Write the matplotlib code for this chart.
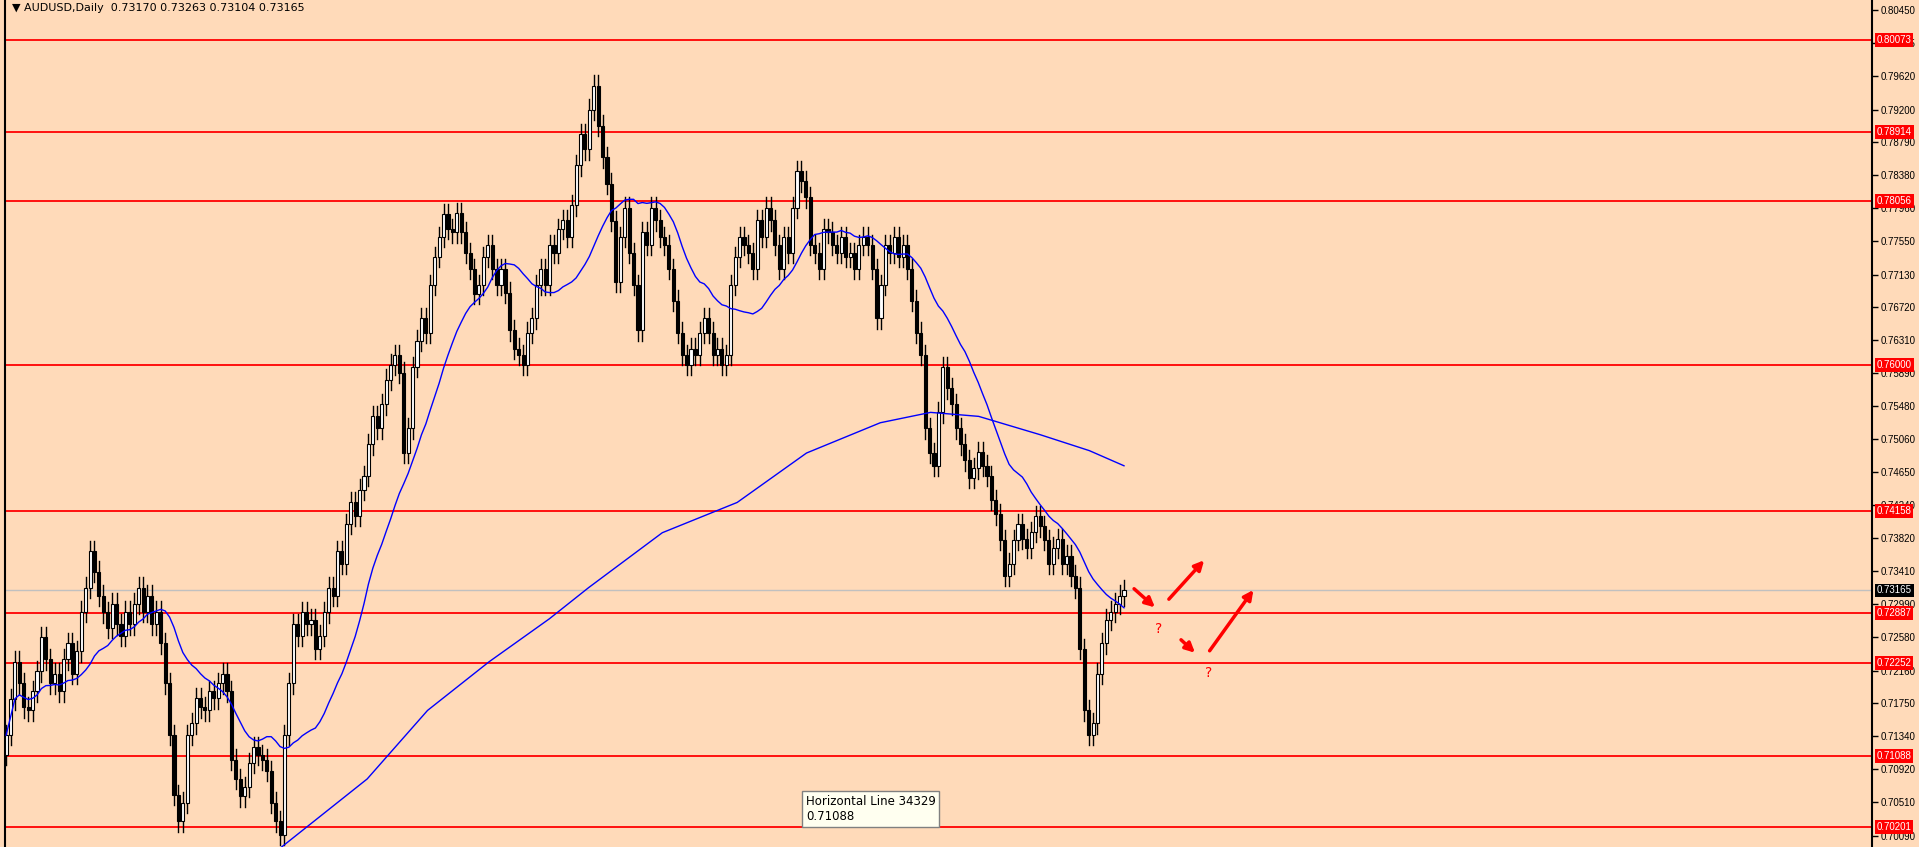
import matplotlib
matplotlib.use("Agg")
import matplotlib.pyplot as plt
import numpy as np
import pandas as pd

closes = [7135,7180,7227,7200,7170,7166,7190,7215,7258,7230,7200,7212,7190,7230,7250,7212,7240,7290,
          7320,7366,7340,7310,
          7289,7270,7300,7274,7260,7290,7274,7300,7320,7290,7310,7274,7290,7250,7200,
          7135,7060,7027,7050,
          7135,7150,7181,7170,7166,7190,7181,7200,7212,7190,
          7104,7080,7058,7070,7100,7120,7110,7104,7090,7050,7027,7010,
          7135,7200,7274,7260,7289,7274,7280,7243,7260,
          7289,7320,7310,7366,7350,7400,7427,7410,7443,7460,7500,7535,7520,
          7550,7581,7600,7612,7590,7489,7520,7597,
          7630,7658,7640,7700,7735,7760,7789,7770,7766,
          7790,7766,7740,7720,7689,7700,7735,7750,7720,7700,7720,
          7690,7643,7620,7612,7600,7640,7658,7700,7720,7700,
          7750,7740,7770,7781,7760,7800,7850,7889,7870,7920,7950,7900,7860,
          7827,7780,7704,7760,7797,7740,7700,7643,
          7766,7750,7797,7781,7760,7750,7720,7680,7640,7612,
          7600,7620,7612,7640,7658,7640,7612,7620,7600,7612,
          7700,7735,7760,7750,7740,7720,7781,7760,7797,7781,
          7750,7720,7760,7740,7797,7843,7830,7810,7750,7740,7720,
          7770,7766,7750,7740,7760,7735,7740,7720,7750,7760,7750,
          7720,7658,7700,7750,7740,7760,7735,7750,7720,7680,7640,7612,
          7520,7489,7473,7540,7597,
          7570,7550,7520,7500,7480,7458,7470,7490,7473,7460,
          7430,7412,7380,7335,7350,7380,7400,7381,7370,7390,7410,7397,7380,
          7350,7370,7381,7350,7360,7335,7320,
          7243,7166,7135,7150,7212,7250,7280,7290,7300,7310,7316.5]
closes = [c / 10000 for c in closes]
first_open = 0.7110

# long MA knots: (fraction of visible bars, price)
ma_long_pos = [0.245, 0.323, 0.377, 0.432, 0.486, 0.521, 0.587, 0.654, 0.716,
               0.782, 0.827, 0.870, 0.925, 0.969, 1.0]
ma_long_vals = [0.6993, 0.7080, 0.7166, 0.7227, 0.7281, 0.7320, 0.7389, 0.7427, 0.7489,
                0.7527, 0.7540, 0.7535, 0.7512, 0.7492, 0.7473]

hlines = [0.80073, 0.78914, 0.78056, 0.76000, 0.74158, 0.72887, 0.72252, 0.71088, 0.70201]
last_price = 0.73165
yticks = [0.80450, 0.80035, 0.79620, 0.79200, 0.78790, 0.78380, 0.77960, 0.77550, 0.77130,
          0.76720, 0.76310, 0.75890, 0.75480, 0.75060, 0.74650, 0.74240, 0.73820, 0.73410,
          0.72990, 0.72580, 0.72160, 0.71750, 0.71340, 0.70920, 0.70510, 0.70090]
# arrows in pixel x positions of the figure, prices in y
arrows = [((1132, 0.7321), (1157, 0.7293)), ((1167, 0.7303), (1206, 0.7357)),
          ((1179, 0.7257), (1197, 0.7236)), ((1208, 0.7238), (1255, 0.7320))]
qmarks = [(1159, 0.7268), (1209, 0.7213)]

W, H = 1919, 847
fig = plt.figure(figsize=(W / 100, H / 100), dpi=100)
bg = "#FFDAB9"
fig.patch.set_facecolor(bg)
ax = fig.add_axes([5 / W, 0, 1867 / W, 1])
ax.set_facecolor(bg)

n = len(closes)
opens = [first_open] + closes[:-1]
ymin, ymax = 0.69946, 0.80575
ax.set_ylim(ymin, ymax)
x0 = -0.25
x1 = (n - 1 - x0) * 1867 / 1119 + x0
ax.set_xlim(x0, x1)
def px2bar(p):
    return x0 + (p - 5) / 1867 * (x1 - x0)

for i in range(n):
    o, c = opens[i], closes[i]
    hi = max(o, c) + 0.0013
    lo = min(o, c) - 0.0013
    ax.plot([i, i], [lo, hi], color="black", lw=1, zorder=3)
    bull = c >= o
    ax.bar(i, max(abs(c - o), 0.00005), bottom=min(o, c), width=0.7,
           color="white" if bull else "black", edgecolor="black", lw=0.8, zorder=4)

ma20 = pd.Series(closes).rolling(20, min_periods=1).mean()
ax.plot(range(n), ma20, color="#0000FF", lw=1, zorder=5)
ax.plot([p * (n - 1) for p in ma_long_pos], ma_long_vals, color="#0000FF", lw=1, zorder=5)

for h in hlines:
    ax.axhline(h, color="#FF0000", lw=1.3, zorder=2)
ax.axhline(last_price, color="#C0C0C0", lw=1, zorder=2)

for (a, b) in arrows:
    ax.annotate("", xy=(px2bar(b[0]), b[1]), xytext=(px2bar(a[0]), a[1]),
                arrowprops=dict(arrowstyle="-|>", color="#FF0000", lw=2.5, mutation_scale=14), zorder=6)
for (x, y) in qmarks:
    ax.text(px2bar(x), y, "?", color="#FF0000", fontsize=10, ha="center", va="center")

fam = "Liberation Sans"
ax.yaxis.tick_right()
ax.set_yticks(yticks)
ax.set_yticklabels([f"{t:.5f}" for t in yticks], fontsize=7, family=fam)
ax.tick_params(axis="y", length=4, width=1, pad=2)
ax.set_xticks([])
for s in ["top", "bottom"]:
    ax.spines[s].set_visible(False)
ax.spines["right"].set_linewidth(1.5)
ax.spines["left"].set_linewidth(1.5)

for h in hlines:
    ax.text(1.0025, h, f"{h:.5f}", transform=ax.get_yaxis_transform(), color="white",
            fontsize=7, family=fam, va="center", ha="left",
            bbox=dict(boxstyle="square,pad=0.2", fc="#FF0000", ec="none"), zorder=10)
ax.text(1.0025, last_price, f"{last_price:.5f}", transform=ax.get_yaxis_transform(), color="white",
        fontsize=7, family=fam, va="center", ha="left",
        bbox=dict(boxstyle="square,pad=0.2", fc="black", ec="none"), zorder=10)

fig.text(12 / W, 1 - 8 / H, "▼ AUDUSD,Daily  0.73170 0.73263 0.73104 0.73165",
         fontsize=8, va="center", ha="left")
fig.text(806 / W, 1 - 809 / H, "Horizontal Line 34329\n0.71088", fontsize=8.5, va="center",
         ha="left", bbox=dict(boxstyle="square,pad=0.3", fc="#FFFFF0", ec="#808080"))

fig.savefig("out.png", dpi=100, facecolor=bg)
